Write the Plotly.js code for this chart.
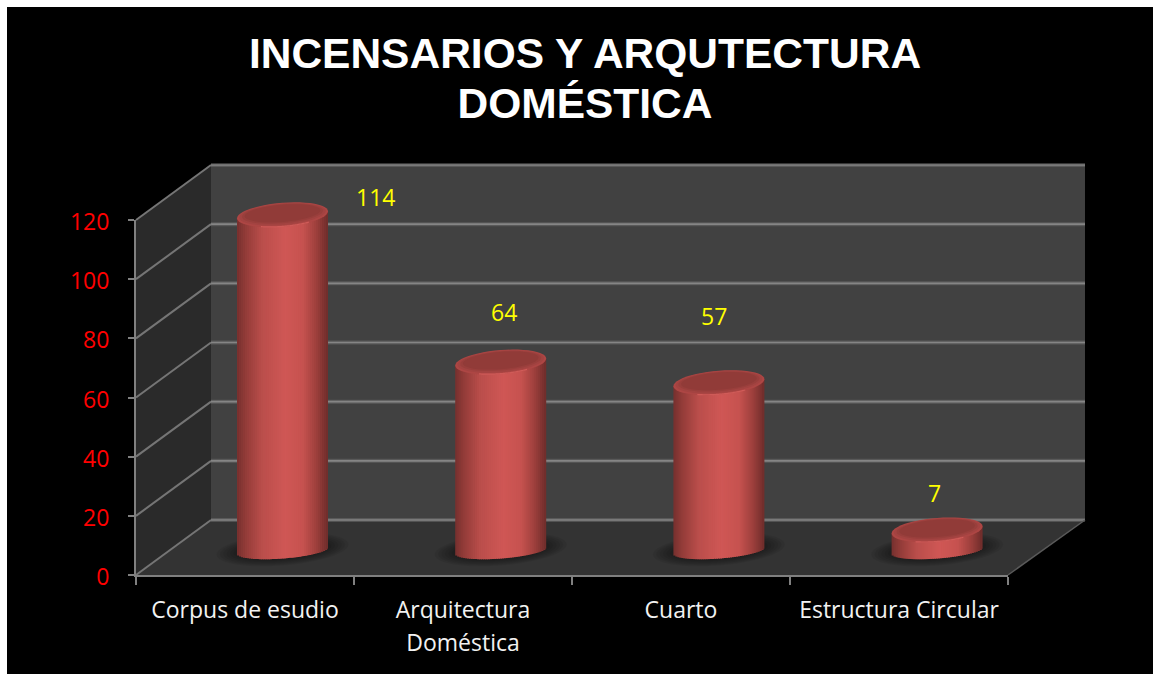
<!DOCTYPE html>
<html>
<head>
<meta charset="utf-8">
<script src="https://cdn.plot.ly/plotly-3.0.1.min.js"></script>
<style>html,body{margin:0;padding:0;background:#000;overflow:hidden}</style>
</head>
<body>
<div id="chart" style="width:1153px;height:674px"></div>
<script>
// --- data ---
const categories = ["Corpus de esudio", "Arquitectura<br>Doméstica", "Cuarto", "Estructura Circular"];
const values = [114, 64, 57, 7];
const yTicks = [0, 20, 40, 60, 80, 100, 120];
const titleText = "INCENSARIOS Y ARQUTECTURA<br>DOMÉSTICA";
// label placement relative to the top of each cylinder (px)
const labelShiftX = [93, 3, -5, -3];
const labelShiftY = [18, 50, 67, 37];

const W = 1153, H = 674;
const px = x => x / W, py = y => 1 - y / H;

// geometry of the fake 3-D room (px)
const front = {l: 136, r: 1008, b: 575, t: 220};
const depth = {x: 75, y: 55};
const pxPerUnit = (front.b - front.t) / 120;

// geometry of cylinders
const k = 2.945, baseY = 550.5, binW = 218.2, firstC = 282.5;
const halfW = 45.5, topB = 12, botB = 8, tilt = 3.5;
const halfWData = halfW / binW;

const shapes = [];
const pline = (pts, color, width, layer) => shapes.push({
  type: 'path', xref: 'paper', yref: 'paper', layer: layer || 'below',
  path: pts.map((p, i) => (i ? 'L' : 'M') + px(p[0]).toFixed(5) + ' ' + py(p[1]).toFixed(5)).join(' '),
  line: {color, width}
});
const pfill = (pts, fill) => shapes.push({
  type: 'path', xref: 'paper', yref: 'paper', layer: 'below',
  path: pts.map((p, i) => (i ? 'L' : 'M') + px(p[0]).toFixed(5) + ' ' + py(p[1]).toFixed(5)).join(' ') + ' Z',
  fillcolor: fill, line: {width: 0}
});

// black card
shapes.push({type: 'rect', xref: 'paper', yref: 'paper', layer: 'below', x0: px(7), x1: 1, y0: 0, y1: py(7), fillcolor: '#000', line: {width: 0}});

const B = {l: front.l + depth.x, r: 1085, b: front.b - depth.y, t: front.t - depth.y};
// walls and floor
pfill([[B.l, B.t], [B.r, B.t], [B.r, B.b], [B.l, B.b]], '#414141');
pfill([[front.l, front.t], [B.l, B.t], [B.l, B.b], [front.l, front.b]], '#2a2a2a');
pfill([[front.l, front.b], [B.l, B.b], [B.r, B.b], [front.r, front.b]], '#333333');
// grid
yTicks.forEach(t => {
  const yf = front.b - t * pxPerUnit, yb = yf - depth.y;
  pline([[B.l, yb], [B.r, yb]], 'rgba(120,120,120,0.45)', 4);
  pline([[B.l, yb], [B.r, yb]], '#858585', 1.6);
  pline([[front.l, yf], [B.l, yb]], '#757575', 2);
});
pline([[front.r, front.b], [B.r, B.b]], '#5a5a5a', 1.5);

// cylinder helpers
const X = (i, dx) => i + dx / binW;
const Y = (v, dy) => v - dy / k;
function ellipsePath(i, v, a, b, dx, dy, t0, t1, closed) {
  const n = 48, parts = [];
  for (let j = 0; j <= n; j++) {
    const t = t0 + (t1 - t0) * j / n;
    const ex = dx + a * Math.cos(t);
    const ey = dy - tilt * (a / halfW) * Math.cos(t) + b * Math.sin(t);
    parts.push((j ? 'L' : 'M') + X(i, ex).toFixed(4) + ' ' + Y(v, ey).toFixed(3));
  }
  return parts.join(' ') + (closed ? ' Z' : '');
}
const shape2 = (o) => Object.assign({type: 'path', xref: 'x2', yref: 'y2'}, o);

values.forEach((v, i) => {
  // soft floor shadow
  for (let s = 0; s < 7; s++) {
    shapes.push(shape2({layer: 'below',
      path: ellipsePath(i, 0, 66 - s * 3.4, 16 - s * 1.1, 0, -1, 0, 2 * Math.PI, true),
      fillcolor: 'rgba(0,0,0,0.065)', line: {width: 0}}));
  }
  // top face
  shapes.push(shape2({path: ellipsePath(i, v, halfW, topB, 0, 0, 0, 2 * Math.PI, true), fillcolor: '#ad4644', line: {width: 0}}));
  shapes.push(shape2({path: ellipsePath(i, v, halfW * 0.95, topB * 0.9, 0, -0.6, 0, 2 * Math.PI, true), fillcolor: '#a34341', line: {width: 0}}));
  shapes.push(shape2({path: ellipsePath(i, v, halfW * 0.89, topB * 0.8, 0, -1.1, 0, 2 * Math.PI, true), fillcolor: '#993f3c', line: {width: 0}}));
  shapes.push(shape2({path: ellipsePath(i, v, halfW * 0.83, topB * 0.72, 0, -1.5, 0, 2 * Math.PI, true), fillcolor: '#913b38', line: {width: 0}}));
  shapes.push(shape2({path: ellipsePath(i, v, halfW * 0.985, topB * 0.97, 0, 0, Math.PI * 0.3, Math.PI * 0.66, false), line: {color: '#cf5b58', width: 1.2}}));
});

// strips that shade each cylinder from left to right
const stops = [[-1, [118, 48, 46]], [-0.8, [148, 60, 57]], [-0.45, [186, 78, 75]], [0.05, [207, 87, 85]], [0.45, [198, 82, 79]], [0.75, [156, 63, 60]], [1, [110, 44, 42]]];
function shade(u) {
  for (let j = 1; j < stops.length; j++) {
    if (u <= stops[j][0]) {
      const f = (u - stops[j - 1][0]) / (stops[j][0] - stops[j - 1][0]);
      const c = stops[j - 1][1].map((a, m) => Math.round(a + (stops[j][1][m] - a) * f));
      return 'rgb(' + c.join(',') + ')';
    }
  }
  return '#6e2c2a';
}
const N = 46, stripW = 2 * halfWData / N;
const traces = [{
  type: 'scatter', mode: 'none', x: categories.map(c => c.split('<br>').map(l => '<span style="font-size:23px">' + l + '</span>').join('<br>')),
  y: values, xaxis: 'x', yaxis: 'y', hoverinfo: 'skip', showlegend: false
}];
const xIdx = values.map((_, i) => i);
for (let s = 0; s < N; s++) {
  const uc = -1 + (s + 0.5) * 2 / N;
  const root = Math.sqrt(Math.max(0, 1 - uc * uc));
  const base = values.map(() => (tilt * uc - botB * root) / k);
  const top = values.map(v => v + tilt * uc / k);
  traces.push({
    type: 'bar', x: xIdx, y: top.map((t, m) => t - base[m]), base,
    width: stripW * (s === N - 1 ? 1 : 1.6), offset: -halfWData + s * stripW,
    xaxis: 'x2', yaxis: 'y2', hoverinfo: 'skip', showlegend: false,
    marker: {color: shade(uc), line: {width: 0}}
  });
}

const annotations = values.map((v, i) => ({
  xref: 'x2', yref: 'y2', x: i, y: v, text: String(v), showarrow: false,
  xshift: labelShiftX[i], yshift: labelShiftY[i], xanchor: 'center', yanchor: 'middle',
  font: {family: 'Open Sans', size: 23, color: '#ffff00'}
}));

const layout = {
  width: W, height: H, margin: {l: 0, r: 0, t: 0, b: 0},
  paper_bgcolor: '#ffffff', plot_bgcolor: 'rgba(0,0,0,0)', showlegend: false, barmode: 'overlay', hovermode: false,
  title: {
    text: titleText.split('<br>').map(l => '<span style="font-size:42.5px">' + l + '</span>').join('<br>'),
    x: 585 / W, xanchor: 'center', y: 1 - 68 / H, yanchor: 'middle', yref: 'container',
    font: {family: 'Liberation Sans', size: 38.46, color: '#ffffff', weight: 700}
  },
  xaxis: {
    type: 'category', domain: [px(front.l), px(front.r)], anchor: 'y', range: [-0.5, 3.5], tickson: 'boundaries',
    showgrid: false, zeroline: false, showline: true, linecolor: '#808080', linewidth: 2,
    ticks: 'outside', ticklen: 8, tickwidth: 2, tickcolor: '#808080', tickangle: 0, ticklabelstandoff: 11,
    tickfont: {family: 'Open Sans', size: 25, color: '#f2f2f2'}, fixedrange: true
  },
  yaxis: {
    domain: [py(front.b), py(front.t)], anchor: 'x', range: [0, 120], tickmode: 'array', tickvals: yTicks,
    showgrid: false, zeroline: false, showline: true, linecolor: '#808080', linewidth: 2,
    ticks: 'outside', ticklen: 6, tickwidth: 2, tickcolor: '#808080', ticklabelstandoff: 14, ticklabelshift: 2,
    tickfont: {family: 'Open Sans', size: 23, color: '#ff0000'}, fixedrange: true
  },
  xaxis2: {domain: [px(front.l), px(B.r)], anchor: 'y2', visible: false, range: [(front.l - firstC) / binW, (B.r - firstC) / binW], fixedrange: true},
  yaxis2: {domain: [py(front.b), py(B.t)], anchor: 'x2', visible: false, range: [(baseY - front.b) / k, (baseY - B.t) / k], fixedrange: true},
  shapes, annotations
};
Plotly.newPlot('chart', traces, layout, {displayModeBar: false});
</script>
</body>
</html>
